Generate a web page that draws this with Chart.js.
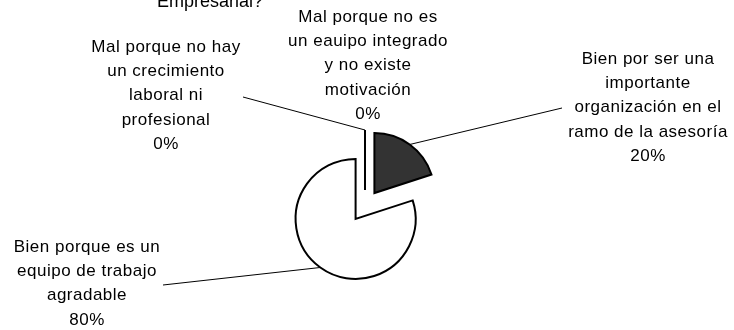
<!DOCTYPE html>
<html>
<head>
<meta charset="utf-8">
<script src="https://cdn.jsdelivr.net/npm/chart.js@4.4.1/dist/chart.umd.min.js"></script>
<style>
  html, body { margin: 0; padding: 0; background: #ffffff; }
  #wrap { width: 734px; height: 330px; position: relative; }
</style>
</head>
<body>
<div id="wrap"><canvas id="c"></canvas></div>
<script>
// Category names (one entry per slice, split into display lines)
const categories = [
  ["Bien por ser una", "importante", "organización en el", "ramo de la asesoría"],
  ["Bien porque es un", "equipo de trabajo", "agradable"],
  ["Mal porque no hay", "un crecimiento", "laboral ni", "profesional"],
  ["Mal porque no es", "un eauipo integrado", "y no existe", "motivación"]
];
// Share of answers, in percent
const values = [20, 80, 0, 0];
const titleText = "Empresarial?";

const FONT = '"Liberation Sans", Arial, sans-serif';
const EXPLODE = 16;          // distance every slice is pulled out from the centre
const LINE_H = 24.4;

// Where each data label block sits (centre x, first line centre y) and where its leader starts
const labelLayout = [
  { x: 648, y: 59,  leader: [562, 108] },
  { x: 87,  y: 247, leader: [163, 285] },
  { x: 166, y: 47,  leader: [243, 97] },
  { x: 368, y: 17,  leader: null }
];

function arcCentre(arc) {
  const mid = (arc.startAngle + arc.endAngle) / 2;
  return [arc.x + Math.cos(mid) * EXPLODE, arc.y + Math.sin(mid) * EXPLODE];
}

// Pulls every slice outward along its mid angle; zero slices are drawn as a radial stroke
const explodePlugin = {
  id: 'explode',
  beforeDatasetDraw(chart, args) {
    args.meta.data.forEach(arc => {
      arc._baseX = arc.x; arc._baseY = arc.y;
      const c = arcCentre(arc);
      arc.x = c[0]; arc.y = c[1];
    });
  },
  afterDatasetDraw(chart, args) {
    const ctx = chart.ctx;
    args.meta.data.forEach((arc, i) => {
      if (values[i] === 0) {
        ctx.save();
        ctx.strokeStyle = '#000';
        ctx.lineWidth = 2;
        ctx.beginPath();
        ctx.moveTo(arc.x, arc.y);
        ctx.lineTo(arc.x + Math.cos(arc.startAngle) * arc.outerRadius,
                   arc.y + Math.sin(arc.startAngle) * arc.outerRadius);
        ctx.stroke();
        ctx.restore();
      }
    });
    args.meta.data.forEach(arc => {
      arc._cx = arc.x; arc._cy = arc.y;
      arc.x = arc._baseX; arc.y = arc._baseY;
    });
  }
};

// Data labels with leader lines, plus the visible tail of the title
const labelPlugin = {
  id: 'sliceLabels',
  afterDraw(chart) {
    const ctx = chart.ctx;
    const meta = chart.getDatasetMeta(0);
    const total = values.reduce((a, b) => a + b, 0);
    ctx.save();
    ctx.fillStyle = '#000';
    ctx.textAlign = 'right';
    ctx.textBaseline = 'alphabetic';
    ctx.font = '18px ' + FONT;
    ctx.fillText(titleText, 263, 7);

    ctx.strokeStyle = '#000';
    ctx.lineWidth = 1;
    meta.data.forEach((arc, i) => {
      const lay = labelLayout[i];
      if (lay.leader) {
        const cx = arc._cx, cy = arc._cy;
        const ang = values[i] === 0 ? arc.startAngle : (arc.startAngle + arc.endAngle) / 2;
        const px = cx + Math.cos(ang) * arc.outerRadius;
        const py = cy + Math.sin(ang) * arc.outerRadius;
        ctx.beginPath();
        ctx.moveTo(lay.leader[0], lay.leader[1]);
        ctx.lineTo(px, py);
        ctx.stroke();
      }
      const lines = categories[i].concat([Math.round(values[i] / total * 100) + '%']);
      ctx.font = '17px ' + FONT;
      if ('letterSpacing' in ctx) ctx.letterSpacing = '0.5px';
      ctx.textAlign = 'center';
      ctx.textBaseline = 'middle';
      lines.forEach((t, k) => ctx.fillText(t, lay.x, lay.y + k * LINE_H));
    });
    ctx.restore();
  }
};

new Chart(document.getElementById('c'), {
  type: 'pie',
  data: {
    labels: categories.map(l => l.join(' ')),
    datasets: [{
      data: values,
      backgroundColor: ['#333333', '#ffffff', '#ffffff', '#ffffff'],
      borderColor: '#000000',
      borderWidth: 2,
      borderJoinStyle: 'miter',
      clip: false
    }]
  },
  options: {
    responsive: true,
    maintainAspectRatio: false,
    animation: false,
    events: [],
    radius: 60,
    layout: { padding: { left: 248, right: 252, top: 130, bottom: 48 } },
    plugins: { legend: { display: false }, tooltip: { enabled: false }, title: { display: false } }
  },
  plugins: [explodePlugin, labelPlugin]
});
</script>
</body>
</html>
